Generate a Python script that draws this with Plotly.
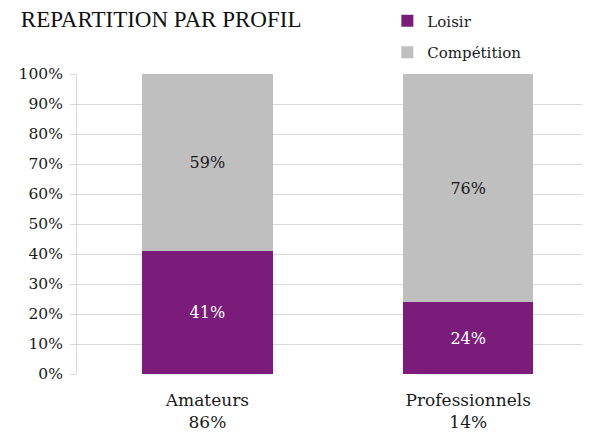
import plotly.graph_objects as go

categories = ["Amateurs", "Professionnels"]
shares = ["86%", "14%"]
loisir = [0.41, 0.24]
competition = [0.59, 0.76]
y_ticks = [0, 0.1, 0.2, 0.3, 0.4, 0.5, 0.6, 0.7, 0.8, 0.9, 1.0]

PURPLE = "#7b1c7a"
GREY = "#bfbfbf"
FONT = "DejaVu Serif, serif"
TITLE_FONT = "Liberation Serif, serif"

ticktext = [f"{c}<br>{s}" for c, s in zip(categories, shares)]

fig = go.Figure()
fig.add_trace(go.Bar(
    name="Loisir", x=categories, y=loisir, marker=dict(color=PURPLE, line=dict(width=0)),
    width=0.5, texttemplate="%{y:.0%}", textposition="inside", insidetextanchor="middle",
    textfont=dict(color="white", size=16, family=FONT), legendgroup="a",
    hoverinfo="skip"))
fig.add_trace(go.Bar(
    name="Compétition", x=categories, y=competition, marker=dict(color=GREY, line=dict(width=0)),
    width=0.5, texttemplate="%{y:.0%}", textposition="inside", insidetextanchor="middle",
    textfont=dict(color="#1a1a1a", size=16, family=FONT), legendgroup="b",
    hoverinfo="skip"))

# page body has an 8px default margin, so the figure is sized to fit the window
fig.update_layout(
    width=582, height=424,
    barmode="stack",
    paper_bgcolor="white", plot_bgcolor="white",
    margin=dict(l=69, r=0, t=66, b=58, autoexpand=False),
    font=dict(family=FONT, color="#1a1a1a", size=15),
    title=dict(text="REPARTITION PAR PROFIL", x=0.022, xanchor="left", y=0.993, yanchor="top",
               font=dict(family=TITLE_FONT, size=23, color="#111111")),
    showlegend=True,
    legend=dict(x=0.605, xanchor="left", yref="paper", y=1.232, yanchor="top",
                traceorder="grouped", tracegroupgap=9, itemwidth=30,
                font=dict(family=FONT, size=15, color="#1a1a1a"),
                bgcolor="rgba(0,0,0,0)"),
    uniformtext=dict(minsize=10),
)
fig.update_xaxes(
    type="category", range=[-0.5, 1.467],
    tickvals=categories, ticktext=ticktext, tickfont=dict(family=FONT, size=17, color="#1a1a1a"),
    showgrid=False, showline=False, ticks="", zeroline=False, ticklabelstandoff=14,
)
fig.update_yaxes(
    range=[0, 1], tickvals=y_ticks, tickformat=".0%",
    tickfont=dict(family=FONT, size=15.5, color="#1a1a1a"),
    showgrid=True, gridcolor="#d9d9d9", gridwidth=1,
    showline=True, linecolor="#d9d9d9", linewidth=1,
    ticks="outside", ticklen=6, tickcolor="#d9d9d9", ticklabelstandoff=4,
    zeroline=False,
)

fig.write_html("out.html")
